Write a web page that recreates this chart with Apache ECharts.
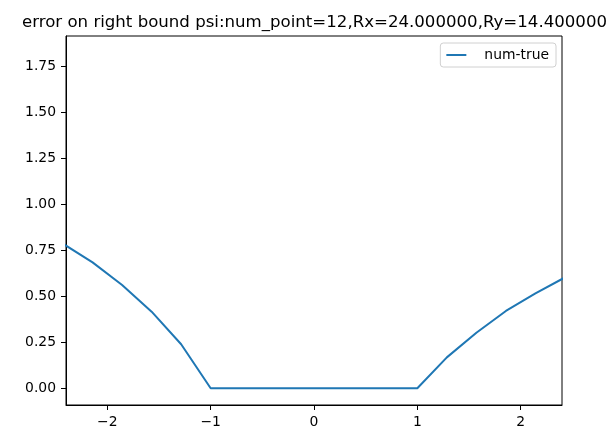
<!DOCTYPE html>
<html>
<head>
<meta charset="utf-8">
<script src="https://cdn.jsdelivr.net/npm/echarts@6/dist/echarts.min.js"></script>
<style>
html,body{margin:0;padding:0;background:#fff;}
#chart{width:616px;height:435px;}
</style>
</head>
<body>
<div id="chart"></div>
<script>
const titleText = 'error on right bound psi:num_point=12,Rx=24.000000,Ry=14.400000';
const seriesName = 'num-true';
const xValues = [-2.4286, -2.1429, -1.8571, -1.5714, -1.2857, -1.0, -0.7143, -0.4286, -0.1429, 0.1429, 0.4286, 0.7143, 1.0, 1.2857, 1.5714, 1.8571, 2.1429, 2.4286];
const yValues = [0.785, 0.684, 0.561, 0.416, 0.239, 0.0, 0.0, 0.0, 0.0, 0.0, 0.0, 0.0, 0.0, 0.168, 0.302, 0.420, 0.515, 0.602];
const xTicks = [-2, -1, 0, 1, 2];
const yTicks = [0, 0.25, 0.5, 0.75, 1.0, 1.25, 1.5, 1.75];

const font = 'DejaVu Sans';
const chart = echarts.init(document.getElementById('chart'), null, {renderer: 'canvas'});
const axisLineStyle = {show: true, onZero: false, lineStyle: {color: '#000', width: 1}};
chart.setOption({
  animation: false,
  backgroundColor: '#ffffff',
  title: {
    text: titleText,
    left: 22,
    top: 14,
    padding: 0,
    textStyle: {fontFamily: font, fontSize: 16.6, fontWeight: 'normal', color: '#000'}
  },
  legend: {
    data: [seriesName],
    right: 60,
    top: 43,
    orient: 'vertical',
    icon: 'rect',
    padding: [5, 7, 5, 6],
    itemWidth: 20,
    itemHeight: 2,
    borderColor: '#d0d0d0',
    borderWidth: 1,
    borderRadius: 3,
    backgroundColor: 'rgba(255,255,255,0.8)',
    textStyle: {fontFamily: font, fontSize: 13.9, color: '#000', padding: [0, 0, 0, 13], lineHeight: 14}
  },
  grid: {
    left: 66, right: 54, top: 36, bottom: 30,
    show: true, borderColor: '#000', borderWidth: 1, backgroundColor: 'transparent'
  },
  xAxis: {
    type: 'value',
    min: -2.4, max: 2.4,
    axisLine: axisLineStyle,
    splitLine: {show: false},
    axisTick: {show: true, inside: false, length: 5, lineStyle: {color: '#000', width: 1}, customValues: xTicks},
    axisLabel: {
      margin: 10, fontFamily: font, fontSize: 13.9, color: '#000',
      customValues: xTicks,
      formatter: v => String(v).replace('-', '\u2212')
    }
  },
  yAxis: {
    type: 'value',
    min: -0.0907, max: 1.913,
    axisLine: axisLineStyle,
    splitLine: {show: false},
    axisTick: {show: true, inside: false, length: 5, lineStyle: {color: '#000', width: 1}, customValues: yTicks},
    axisLabel: {
      margin: 10, fontFamily: font, fontSize: 13.9, color: '#000',
      customValues: yTicks,
      formatter: v => v.toFixed(2).replace('-', '\u2212')
    }
  },
  series: [{
    name: seriesName,
    type: 'line',
    symbol: 'none',
    clip: true,
    data: xValues.map((x, i) => [x, yValues[i]]),
    lineStyle: {color: '#1f77b4', width: 2},
    itemStyle: {color: '#1f77b4'}
  }]
});
</script>
</body>
</html>
